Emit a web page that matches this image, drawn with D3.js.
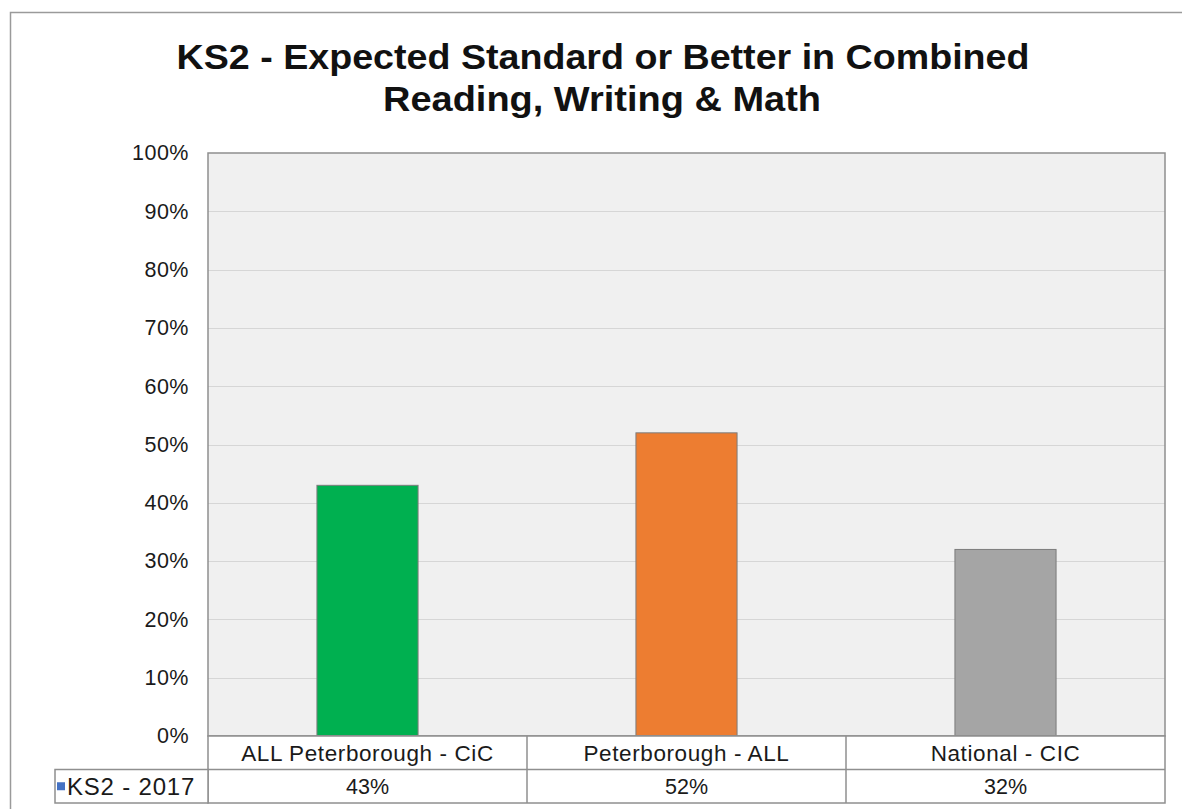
<!DOCTYPE html>
<html>
<head>
<meta charset="utf-8">
<script src="https://cdnjs.cloudflare.com/ajax/libs/d3/7.8.5/d3.min.js"></script>
<style>
  html, body { margin: 0; padding: 0; background: #ffffff; }
  svg { display: block; font-family: "Liberation Sans", Arial, sans-serif; }
</style>
</head>
<body>
<svg id="chart" width="1182" height="809"></svg>
<script>
// KS2 combined reading, writing & maths attainment
const categories = ["ALL Peterborough - CiC", "Peterborough - ALL", "National - CIC"];
const values = [0.43, 0.52, 0.32];
const valueLabels = ["43%", "52%", "32%"];
const barColors = ["#00B050", "#ED7D31", "#A5A5A5"];
const seriesName = "KS2 - 2017";
const yTicks = [0, 0.1, 0.2, 0.3, 0.4, 0.5, 0.6, 0.7, 0.8, 0.9, 1.0];
const titleLines = ["KS2 - Expected Standard or Better in Combined", "Reading, Writing & Math"];

const svg = d3.select("#chart");

// layout
const plot = { left: 208, right: 1165, top: 153, bottom: 736 };
const rowH = 33.5;
const legendLeft = 55;
const borderColor = "#8f8f8f";

// outer chart frame
svg.append("rect")
  .attr("x", 10.5).attr("y", 12.5)
  .attr("width", 1200).attr("height", 820)
  .attr("fill", "#ffffff")
  .attr("stroke", "#9a9a9a").attr("stroke-width", 1.5);

// title
const title = svg.append("g").attr("font-weight", "bold").attr("fill", "#111");
title.append("text")
  .attr("x", 603).attr("y", 69)
  .attr("text-anchor", "middle")
  .attr("font-size", 35.5)
  .attr("textLength", 853).attr("lengthAdjust", "spacingAndGlyphs")
  .text(titleLines[0]);
title.append("text")
  .attr("x", 602).attr("y", 111)
  .attr("text-anchor", "middle")
  .attr("font-size", 35.5)
  .attr("textLength", 438).attr("lengthAdjust", "spacingAndGlyphs")
  .text(titleLines[1]);

// scales
const x = d3.scaleBand()
  .domain(categories)
  .range([plot.left, plot.right])
  .paddingInner(0.683)
  .paddingOuter(0.3415);

const y = d3.scaleLinear()
  .domain([0, 1])
  .range([plot.bottom, plot.top]);

// plot background
svg.append("rect")
  .attr("x", plot.left).attr("y", plot.top)
  .attr("width", plot.right - plot.left)
  .attr("height", plot.bottom - plot.top)
  .attr("fill", "#f0f0f0");

// gridlines
svg.append("g")
  .selectAll("line")
  .data(yTicks.filter(d => d > 0 && d < 1))
  .join("line")
  .attr("x1", plot.left).attr("x2", plot.right)
  .attr("y1", d => Math.round(y(d)) + 0.5)
  .attr("y2", d => Math.round(y(d)) + 0.5)
  .attr("stroke", "#d6d6d6").attr("stroke-width", 1.2);

// y axis labels
const yAxis = d3.axisLeft(y)
  .tickValues(yTicks)
  .tickFormat(d3.format(".0%"))
  .tickSize(0)
  .tickPadding(19);
svg.append("g")
  .attr("transform", `translate(${plot.left},0)`)
  .call(yAxis)
  .call(g => g.select(".domain").remove())
  .call(g => g.selectAll("text")
    .attr("font-size", 21.5)
    .attr("font-family", "'Liberation Sans', Arial, sans-serif")
    .attr("fill", "#1a1a1a")
    .attr("letter-spacing", 0.5));

// bars
svg.append("g")
  .selectAll("rect")
  .data(categories.map((c, i) => ({ c, v: values[i], color: barColors[i] })))
  .join("rect")
  .attr("x", d => x(d.c))
  .attr("y", d => y(d.v))
  .attr("width", x.bandwidth())
  .attr("height", d => y(0) - y(d.v))
  .attr("fill", d => d.color)
  .attr("stroke", "#7c7c7c").attr("stroke-width", 1);

// plot border
svg.append("rect")
  .attr("x", plot.left).attr("y", plot.top)
  .attr("width", plot.right - plot.left)
  .attr("height", plot.bottom - plot.top)
  .attr("fill", "none")
  .attr("stroke", borderColor).attr("stroke-width", 1.5);

// data table below the axis
const table = svg.append("g");
const row1 = plot.bottom, row2 = plot.bottom + rowH, row3 = plot.bottom + 2 * rowH;
table.append("rect")
  .attr("x", plot.left).attr("y", row1)
  .attr("width", plot.right - plot.left).attr("height", 2 * rowH)
  .attr("fill", "#ffffff")
  .attr("stroke", borderColor).attr("stroke-width", 1.5);
table.append("rect")
  .attr("x", legendLeft).attr("y", row2)
  .attr("width", plot.left - legendLeft).attr("height", rowH)
  .attr("fill", "#ffffff")
  .attr("stroke", borderColor).attr("stroke-width", 1.5);
table.append("line")
  .attr("x1", plot.left).attr("x2", plot.right)
  .attr("y1", row2).attr("y2", row2)
  .attr("stroke", borderColor).attr("stroke-width", 1.5);
const step = x.step();
table.selectAll("line.col")
  .data(categories.slice(1))
  .join("line")
  .attr("class", "col")
  .attr("x1", d => x(d) - x.paddingInner() * step / 2)
  .attr("x2", d => x(d) - x.paddingInner() * step / 2)
  .attr("y1", row1).attr("y2", row3)
  .attr("stroke", borderColor).attr("stroke-width", 1.5);

// category labels
table.selectAll("text.cat")
  .data(categories)
  .join("text")
  .attr("class", "cat")
  .attr("x", d => x(d) + x.bandwidth() / 2)
  .attr("y", row1 + rowH / 2)
  .attr("dy", "0.36em")
  .attr("text-anchor", "middle")
  .attr("font-size", 22.5)
  .attr("letter-spacing", 0.6)
  .attr("fill", "#1a1a1a")
  .text(d => d);

// value labels
table.selectAll("text.val")
  .data(categories.map((c, i) => ({ c, label: valueLabels[i] })))
  .join("text")
  .attr("class", "val")
  .attr("x", d => x(d.c) + x.bandwidth() / 2)
  .attr("y", row2 + rowH / 2)
  .attr("dy", "0.36em")
  .attr("text-anchor", "middle")
  .attr("font-size", 21.5)
  .attr("fill", "#1a1a1a")
  .text(d => d.label);

// legend key and series name
table.append("rect")
  .attr("x", 57).attr("y", row2 + rowH / 2 - 4)
  .attr("width", 8).attr("height", 8)
  .attr("fill", "#4472C4");
table.append("text")
  .attr("x", 67).attr("y", row2 + rowH / 2)
  .attr("dy", "0.36em")
  .attr("font-size", 24)
  .attr("letter-spacing", 0.8)
  .attr("fill", "#1a1a1a")
  .text(seriesName);
</script>
</body>
</html>
